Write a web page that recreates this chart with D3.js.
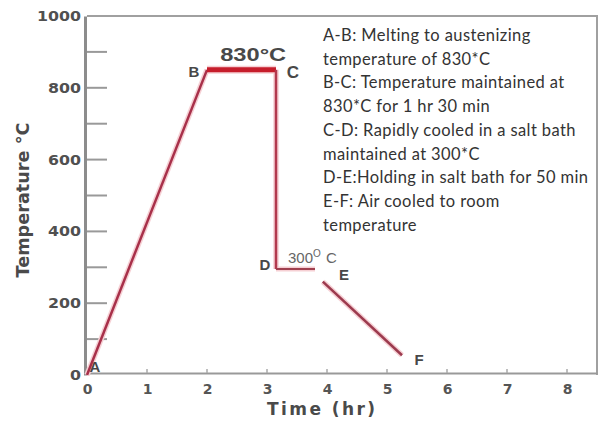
<!DOCTYPE html>
<html>
<head>
<meta charset="utf-8">
<script src="https://cdn.jsdelivr.net/npm/d3@7"></script>
<style>
  body { margin:0; background:#fff; }
  svg { display:block; }
</style>
</head>
<body>
<div id="canvas"></div>
<script>
// data
var heatUp   = [[0, 0], [2, 850]];             // A-B
var soak     = [[2, 850], [3.15, 850]];        // B-C
var quench   = [[3.15, 850], [3.15, 295]];     // C-D
var hold     = [[3.15, 295], [3.8, 295]];      // D-E
var airCool  = [[3.93, 260], [5.25, 55]];      // E-F
var pointLabels = [
  {t:'A', x:0.05, y:0, dx:5, dy:-3},
  {t:'B', x:2, y:850, dx:-13, dy:7},
  {t:'C', x:3.15, y:850, dx:17, dy:8},
  {t:'D', x:3.15, y:295, dx:-11, dy:1},
  {t:'E', x:3.8, y:295, dx:29, dy:11},
  {t:'F', x:5.25, y:55, dx:17, dy:10}
];
var xTicks = [0,1,2,3,4,5,6,7,8];
var yTicks = [0,200,400,600,800,1000];
var yMinor = [100,300,500,700,900];
var notes = [
  'A-B: Melting to austenizing',
  'temperature of 830*C',
  'B-C: Temperature maintained at',
  '830*C for 1 hr 30 min',
  'C-D: Rapidly cooled in a salt bath',
  'maintained at 300*C',
  'D-E:Holding in salt bath for 50 min',
  'E-F: Air cooled to room',
  'temperature'
];

var W = 598, H = 421;
var m = {t:16, r:1, b:48, l:87};

var svg = d3.select('#canvas').append('svg')
  .attr('width', W).attr('height', H);
var plot = svg.append('g')
  .attr('transform', 'translate(' + m.l + ',' + m.t + ')');

var x = d3.scaleLinear().domain([0, 8.5]).range([0, 510]);
var y = d3.scaleLinear().domain([0, 1000]).range([359, 0]);

// frame
plot.append('path')
  .attr('d', 'M0,' + y(1000) + 'H' + (W - m.l - 1) + 'V' + y(0))
  .attr('fill', 'none').attr('stroke', '#a0a0a0').attr('stroke-width', 2);

// x axis
var axisX = d3.axisBottom(x).tickValues(xTicks).tickSize(0).tickPadding(11);
var gx = plot.append('g').attr('transform', 'translate(0,' + (y(0) - 2) + ')').call(axisX);
gx.select('.domain').attr('stroke', '#999').attr('stroke-width', 2);
gx.selectAll('.tick text')
  .attr('font-family', 'DejaVu Sans').attr('font-weight', 'bold')
  .attr('font-size', 14).attr('fill', '#555');
plot.selectAll('.xtick').data(xTicks.slice(1)).enter().append('line')
  .attr('x1', function(d){ return x(d); }).attr('x2', function(d){ return x(d); })
  .attr('y1', y(0) - 2).attr('y2', y(0) - 6)
  .attr('stroke', '#aaa').attr('stroke-width', 1.5);

// y axis, ticks pointing inward
var axisY = d3.axisLeft(y).tickValues(yTicks).tickFormat(d3.format('d')).tickSize(0).tickPadding(4);
var gy = plot.append('g').attr('transform', 'translate(-2,0)').call(axisY);
gy.select('.domain').attr('stroke', '#8c8c8c').attr('stroke-width', 3);
gy.selectAll('.tick text')
  .attr('font-family', 'DejaVu Sans').attr('font-weight', 'bold')
  .attr('font-size', 14).attr('fill', '#505050')
  .attr('textLength', function(d){ return String(d).length * 11; })
  .attr('lengthAdjust', 'spacingAndGlyphs');
plot.selectAll('.ytick').data(yTicks.slice(1, 5).concat(yMinor)).enter().append('line')
  .attr('x1', 0).attr('x2', 20)
  .attr('y1', function(d){ return y(d); }).attr('y2', function(d){ return y(d); })
  .attr('stroke', '#999').attr('stroke-width', 2);

// axis titles
svg.append('text')
  .attr('transform', 'translate(29,' + (m.t + 184) + ') rotate(-90)')
  .attr('text-anchor', 'middle')
  .attr('font-family', 'DejaVu Sans').attr('font-weight', 'bold')
  .attr('font-size', 17).attr('fill', '#4a4a4a')
  .attr('textLength', 155).attr('lengthAdjust', 'spacingAndGlyphs')
  .text('Temperature °C');
svg.append('text')
  .attr('x', 321).attr('y', 415)
  .attr('text-anchor', 'middle')
  .attr('font-family', 'DejaVu Sans').attr('font-weight', 'bold')
  .attr('font-size', 17).attr('fill', '#4a4a4a')
  .attr('textLength', 108).attr('lengthAdjust', 'spacing')
  .text('Time (hr)');

// the curve
var line = d3.line().x(function(d){ return x(d[0]); }).y(function(d){ return y(d[1]); });
var segs = [
  {d:heatUp, c:'#a8304a', sw:2.5},
  {d:soak, c:'#c61d2b', sw:5},
  {d:quench, c:'#b23a4e', sw:2.5},
  {d:hold, c:'#a0404f', sw:2},
  {d:airCool, c:'#9c3a4e', sw:2.5}
];
// soft pink halo like the scanned picture
plot.selectAll('.halo').data(segs).enter().append('path')
  .attr('d', function(d){ return line(d.d); })
  .attr('fill', 'none').attr('stroke', '#f6d0d4')
  .attr('stroke-width', function(d){ return d.sw + 3; });
plot.selectAll('.seg').data(segs).enter().append('path')
  .attr('d', function(d){ return line(d.d); })
  .attr('fill', 'none').attr('stroke', function(d){ return d.c; })
  .attr('stroke-width', function(d){ return d.sw; });

// point letters
plot.selectAll('.pl').data(pointLabels).enter().append('text')
  .attr('x', function(d){ return x(d.x) + d.dx; })
  .attr('y', function(d){ return y(d.y) + d.dy; })
  .attr('text-anchor', 'middle')
  .attr('font-family', 'Liberation Sans').attr('font-weight', 'bold')
  .attr('font-size', function(d){ return d.t === 'C' ? 17 : 15; })
  .attr('fill', '#484848')
  .text(function(d){ return d.t; });

plot.append('text')
  .attr('x', x(2.77)).attr('y', y(850) - 9)
  .attr('text-anchor', 'middle')
  .attr('font-family', 'Liberation Sans').attr('font-weight', 'bold')
  .attr('font-size', 19).attr('fill', '#484848')
  .attr('textLength', 66).attr('lengthAdjust', 'spacingAndGlyphs')
  .text('830°C');

var t300 = plot.append('text')
  .attr('x', x(3.35)).attr('y', y(295) - 6)
  .attr('font-family', 'Liberation Sans')
  .attr('font-size', 15).attr('fill', '#666');
t300.append('tspan').text('300');
t300.append('tspan').attr('dy', -6).attr('font-size', 10).text('O');
t300.append('tspan').attr('dy', 6).attr('dx', 1).text(' C');

// explanation text block
svg.selectAll('.note').data(notes).enter().append('text')
  .attr('x', 323)
  .attr('y', function(d, i){ return 41 + i * 23.7; })
  .attr('font-family', 'Lato')
  .attr('font-size', 16.5).attr('letter-spacing', 0.4).attr('fill', '#333')
  .text(function(d){ return d; });
</script>
</body>
</html>
